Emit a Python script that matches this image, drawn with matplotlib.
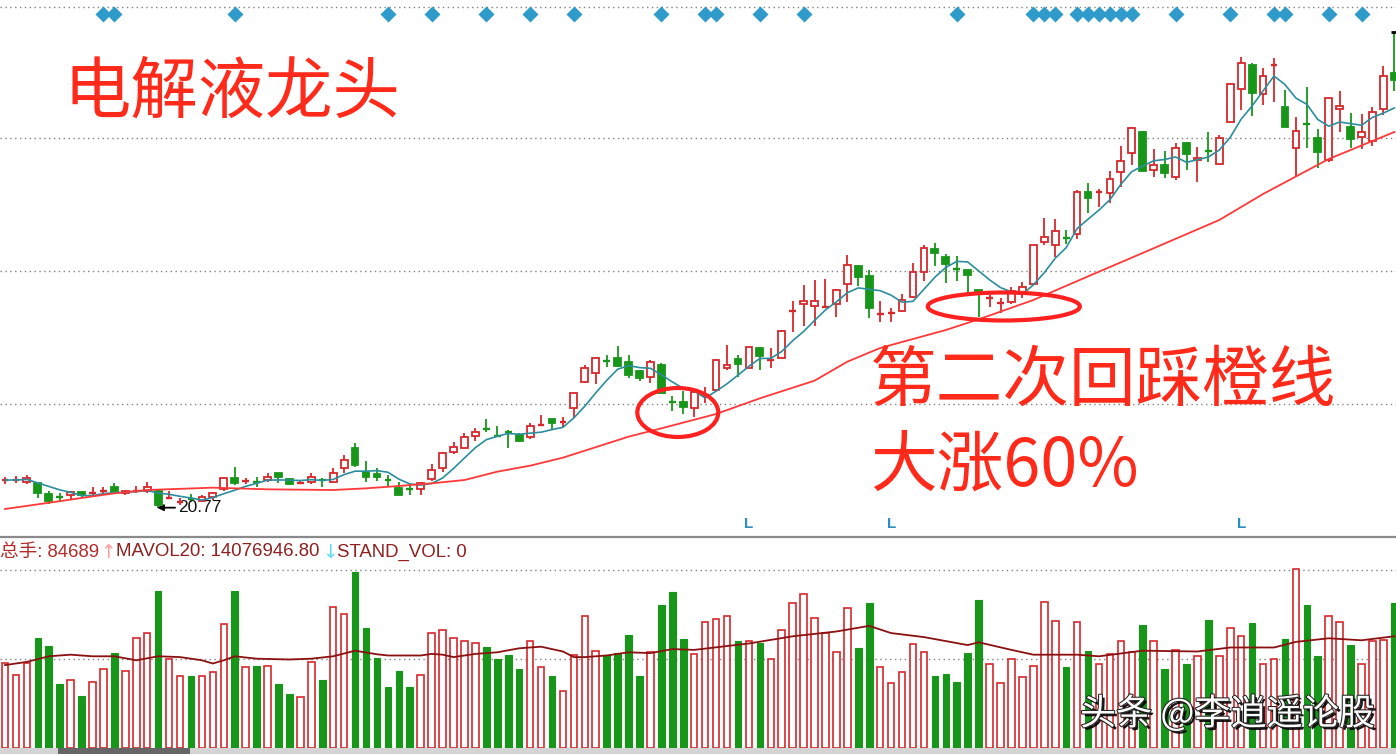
import numpy as np
import matplotlib
matplotlib.use("Agg")
import matplotlib.pyplot as plt
from matplotlib.patches import Rectangle, Ellipse
import matplotlib.patheffects as pe

# candles (price units, hidden axis)
opens = [21.57, 21.585, 21.55, 21.52, 21.18, 21.105, 21.15, 21.25, 21.20, 21.255,
         21.38, 21.20, 21.25, 21.28, 21.28, 21.06, 20.94, 21.03, 20.98, 21.08,
         21.32, 21.65, 21.57, 21.56, 21.60, 21.80, 21.63, 21.51, 21.55, 21.60,
         21.54, 21.95, 22.55, 21.85, 21.78, 21.59, 21.37, 21.33, 21.315, 21.62,
         21.95, 22.45, 22.57, 22.93, 23.13, 22.93, 23.05, 22.95, 22.90, 23.24,
         23.42, 23.33, 23.75, 24.55, 24.80, 25.19, 25.25, 25.15, 24.88, 24.68,
         25.05, 23.96, 23.93, 23.75, 24.13, 24.30, 24.95, 25.22, 24.97, 25.57,
         25.21, 25.25, 26.67, 26.88, 26.83, 26.79, 26.87, 27.48, 28.02, 27.73,
         26.59, 26.61, 26.68, 27.10, 27.85, 28.53, 28.30, 27.93, 27.90, 27.30,
         27.04, 26.91, 26.95, 27.20, 27.48, 28.73, 28.65, 28.875, 28.98, 30.25,
         30.24, 30.20, 30.85, 31.42, 32.05, 30.90, 31.05, 30.70, 31.70, 31.20,
         31.48, 31.08, 32.35, 33.33, 34.05, 33.18, 34.05, 32.80, 31.55, 32.30,
         31.85, 31.20, 32.72, 32.18, 31.88, 31.78, 32.72, 33.82]
highs = [21.69, 21.72, 21.75, 21.55, 21.27, 21.22, 21.27, 21.28, 21.38, 21.38,
         21.52, 21.30, 21.42, 21.55, 21.30, 21.27, 21.06, 21.18, 21.15, 21.25,
         21.70, 21.98, 21.65, 21.68, 21.80, 21.80, 21.65, 21.60, 21.80, 21.65,
         21.95, 22.35, 22.72, 22.17, 21.96, 21.75, 21.55, 21.48, 21.55, 22.07,
         22.44, 22.75, 23.02, 23.15, 23.42, 23.23, 23.10, 23.00, 23.32, 23.55,
         23.42, 23.48, 24.22, 25.05, 25.28, 25.35, 25.62, 25.35, 24.90, 25.20,
         25.10, 24.13, 24.28, 24.27, 24.40, 25.22, 25.65, 25.35, 25.60, 25.58,
         25.55, 26.10, 26.97, 27.45, 27.60, 27.62, 27.32, 28.35, 28.02, 27.90,
         26.98, 26.75, 27.18, 28.10, 28.65, 28.72, 28.38, 28.33, 27.90, 27.30,
         27.15, 27.05, 27.40, 27.53, 28.65, 29.47, 29.42, 29.10, 30.30, 30.50,
         30.32, 30.88, 31.62, 32.19, 32.07, 31.53, 31.47, 31.70, 31.75, 31.60,
         32.03, 31.95, 33.48, 34.28, 34.10, 33.97, 34.25, 33.30, 32.50, 33.40,
         32.13, 33.07, 33.27, 32.60, 32.57, 32.80, 34.02, 35.03]
lows = [21.48, 21.51, 21.48, 21.05, 20.88, 20.95, 21.02, 21.10, 21.15, 21.18,
        21.20, 21.15, 21.20, 21.20, 20.77, 21.045, 20.85, 20.95, 20.95, 21.00,
        21.28, 21.45, 21.48, 21.38, 21.55, 21.52, 21.45, 21.47, 21.48, 21.40,
        21.52, 21.81, 21.99, 21.54, 21.57, 21.42, 21.15, 21.15, 21.15, 21.57,
        21.85, 22.38, 22.55, 22.78, 23.05, 22.88, 22.55, 22.73, 22.82, 23.22,
        23.10, 23.20, 23.45, 24.52, 24.48, 24.98, 24.98, 24.65, 24.57, 24.52,
        24.18, 23.68, 23.58, 23.50, 23.90, 24.25, 24.90, 24.70, 24.95, 24.90,
        24.95, 25.22, 26.05, 26.22, 26.22, 26.75, 26.48, 26.95, 27.42, 26.45,
        26.35, 26.35, 26.65, 27.05, 27.58, 28.02, 27.52, 27.58, 27.20, 26.48,
        26.80, 26.62, 26.88, 27.05, 27.45, 28.65, 28.30, 28.68, 28.82, 29.62,
        29.80, 29.90, 30.40, 31.05, 30.83, 30.70, 30.65, 30.60, 30.90, 30.53,
        31.13, 31.07, 32.33, 32.70, 32.53, 32.85, 32.95, 32.20, 30.70, 31.55,
        30.95, 31.15, 32.05, 31.57, 31.53, 31.63, 32.55, 33.27]
closes = [21.60, 21.60, 21.65, 21.20, 20.98, 21.09, 21.23, 21.15, 21.21, 21.27,
          21.25, 21.27, 21.26, 21.40, 20.85, 21.075, 20.97, 21.00, 21.10, 21.22,
          21.65, 21.50, 21.58, 21.55, 21.70, 21.68, 21.47, 21.52, 21.68, 21.59,
          21.82, 22.20, 22.035, 21.675, 21.675, 21.58, 21.165, 21.32, 21.50, 21.915,
          22.40, 22.59, 22.90, 23.05, 23.11, 22.91, 23.01, 22.78, 23.22, 23.25,
          23.30, 23.35, 24.20, 24.97, 25.25, 25.17, 25.02, 24.75, 24.67, 25.15,
          24.20, 23.94, 23.78, 24.25, 24.15, 25.20, 25.05, 25.08, 25.58, 25.32,
          25.22, 26.08, 26.69, 26.97, 26.97, 26.80, 27.30, 28.05, 27.70, 26.75,
          26.60, 26.62, 27.00, 27.83, 28.57, 28.40, 28.08, 27.91, 27.75, 27.23,
          27.05, 26.92, 27.27, 27.38, 28.65, 28.88, 29.08, 28.86, 30.25, 30.05,
          30.25, 30.62, 31.18, 32.17, 30.87, 31.05, 30.80, 31.57, 31.37, 31.25,
          31.46, 31.85, 33.48, 34.10, 33.22, 33.72, 34.08, 32.20, 32.07, 32.28,
          31.45, 33.07, 32.83, 31.83, 32.03, 32.63, 33.72, 33.60]

# volume (万手)
volumes = [10.6, 9.1, 10.6, 13.8, 12.8, 8.0, 8.5, 6.5, 8.3, 9.9,
           11.9, 9.7, 13.8, 14.4, 19.7, 11.1, 9.0, 9.0, 9.0, 9.5,
           15.5, 19.7, 10.1, 10.3, 10.3, 8.0, 6.8, 6.4, 10.8, 8.5,
           17.7, 16.75, 22.0, 15.0, 11.25, 7.6, 9.7, 7.6, 9.1, 14.4,
           14.8, 13.75, 13.4, 13.2, 12.6, 11.1, 11.7, 9.9, 13.4, 10.2,
           9.0, 7.1, 11.6, 16.5, 12.2, 11.6, 11.9, 14.2, 9.0, 12.0,
           17.9, 19.5, 13.6, 11.75,
           15.75, 16.1, 16.5, 13.4, 13.4, 13.2, 11.2, 14.75, 18.1, 19.25,
           16.3, 14.4, 12.0, 17.5, 12.5, 18.1, 10.1, 8.1, 9.5, 13.0,
           12.0, 9.0, 9.3, 8.3, 11.9, 18.5, 10.5, 8.1, 11.2, 8.9,
           10.3, 18.25, 15.9, 10.1, 15.75, 12.1, 10.5, 11.8, 13.4, 12.0,
           15.4, 13.4, 9.9, 12.3, 10.5, 11.5, 16.0, 11.5, 15.0, 14.0,
           15.6, 10.5, 11.1, 13.6, 22.4, 17.9, 11.5, 16.5, 15.75, 12.9,
           10.5, 13.4, 13.5, 18.1]

# slow (orange/red) price MA, read at some candles
ma_idx = [0, 3, 7, 10, 13, 19, 24, 30, 33, 36, 39, 42, 45, 48, 51, 57, 60, 65,
          69, 74, 77, 80, 86, 89, 94, 100, 103, 111, 115, 121, 127]
ma_val = [20.73, 20.87, 21.06, 21.2, 21.3, 21.37, 21.32, 21.3, 21.35, 21.42,
          21.5, 21.6, 21.85, 22.03, 22.27, 22.9, 23.15, 23.58, 24.05, 24.58,
          25.15, 25.56, 26.1, 26.42, 27.0, 27.85, 28.27, 29.4, 30.18, 31.23, 32.04]

# MAVOL20 read at some candles
mavol_idx = [0, 2, 4, 6, 8, 10, 12, 14, 16, 18, 19, 20, 21, 23, 26, 28, 30, 32, 34,
             35, 38, 39, 40, 41, 43, 45, 47, 49, 51, 52, 53, 55, 57, 59, 61, 63,
             68, 72, 76, 79, 81, 84, 88, 89, 92, 94, 98, 100, 104, 109, 112, 116,
             118, 121, 124, 127]
mavol_val = [10.4, 10.8, 11.5, 11.7, 11.5, 11.5, 11.0, 11.5, 11.4, 11.0, 10.6, 11.0,
             11.5, 11.2, 11.1, 11.2, 11.5, 12.2, 11.75, 11.6, 11.6, 11.8, 11.7, 11.4,
             11.8, 12.0, 12.5, 12.7, 12.1, 11.4, 11.4, 11.6, 12.0, 11.9, 12.4, 12.3,
             13.1, 14.0, 14.6, 15.3, 14.4, 13.9, 12.9, 13.25, 12.3, 11.7, 11.7, 11.5,
             12.2, 12.1, 12.6, 12.6, 13.3, 13.75, 13.5, 14.0]

diamond_idx = [9, 10, 21, 35, 39, 44, 48, 52, 60, 64, 65, 69, 73, 87, 94, 95, 96,
               98, 99, 100, 101, 102, 103, 107, 112, 116, 117, 121, 124]
l_idx = [68, 81, 113]

price_grid = [23.88, 27.87, 31.86, 35.79]
vol_grid = [11.1, 22.25]

RED = '#D8282C'
GREEN = '#18961A'
TEXT_RED = '#FF2A1A'

plt.rcParams['font.family'] = ['Liberation Sans', 'Noto Sans CJK SC', 'DejaVu Sans']

W, H = 1396, 754
fig = plt.figure(figsize=(W / 100, H / 100), dpi=100)
fig.patch.set_facecolor('white')

def fy(py):
    return 1 - py / H

o = np.array(opens); h = np.array(highs); l = np.array(lows); c = np.array(closes)
v = np.array(volumes)
x = np.arange(len(o))
up = c >= o
xlim = (-0.457, 127.15)

# ---------------- price panel
ax = fig.add_axes([0, fy(537), 1, 537 / H])
ax.set_xlim(*xlim)
ax.set_ylim(19.89, 36)
ax.axis('off')

for g in price_grid:
    ax.axhline(g, color='#808080', lw=1, ls=(0, (1, 2.5)), zorder=1)

bw = 0.62
for i in x:
    col = RED if up[i] else GREEN
    ax.vlines(i, l[i], h[i], color=col, lw=1.3, zorder=3)
    lo, hi = min(o[i], c[i]), max(o[i], c[i])
    if hi - lo < 0.05:
        ax.hlines((o[i] + c[i]) / 2, i - bw / 2, i + bw / 2, color=col, lw=1.7, zorder=4)
    else:
        ax.add_patch(Rectangle((i - bw / 2, lo), bw, hi - lo,
                               facecolor='white' if up[i] else col,
                               edgecolor=col, lw=1.3, zorder=4))

ma5 = np.convolve(c, np.ones(5) / 5, mode='full')[:len(c)]
for k in range(4):
    ma5[k] = c[:k + 1].mean()
ax.plot(x, ma5, color='#2A8E9E', lw=1.2, zorder=5)
ax.plot(ma_idx, ma_val, color='#FF3838', lw=1.3, zorder=5)

ax.plot(diamond_idx, [35.58] * len(diamond_idx), 'D', color='#2E9BCB',
        ms=8.5, mec='none', clip_on=False, zorder=6)
for i in l_idx:
    ax.text(i, 20.28, 'L', color='#2C8FC2', fontsize=11, fontweight='bold',
            ha='center', va='center')
ax.hlines(35.03, 126.7, 127.3, color='k', lw=2, zorder=6)

ax.annotate('20.77', xy=(13.9, 20.77), xytext=(15.8, 20.77), fontsize=12.5,
            color='#111111', ha='left', va='center',
            arrowprops=dict(arrowstyle='-|>', color='k', lw=1.3,
                            shrinkA=0, shrinkB=0, mutation_scale=9))

ax.add_patch(Ellipse((61.5, 23.625), 7.4, 1.47, fill=False, ec='#FF2020', lw=3, zorder=7))
ax.add_patch(Ellipse((91.3, 26.805), 13.9, 0.84, fill=False, ec='#FF2020', lw=3, zorder=7))

cjk = ['Noto Sans CJK SC', 'DejaVu Sans']
fig.text(64 / W, fy(94), '电解液龙头', fontsize=48.5, color=TEXT_RED, family=cjk,
         ha='left', va='center')
fig.text(870 / W, fy(382), '第二次回踩橙线', fontsize=48, color=TEXT_RED, family=cjk,
         ha='left', va='center')
fig.text(870 / W, fy(467), '大涨60%', fontsize=48, color=TEXT_RED, family=cjk,
         ha='left', va='center')

# separator
fig.add_artist(plt.Line2D([0, 1], [fy(537), fy(537)], color='#8a8a8a', lw=1.6))

# ---------------- volume panel
vax = fig.add_axes([0, fy(748.3), 1, (748.3 - 565) / H])
vax.set_xlim(*xlim)
vax.set_ylim(0, 22.91)
vax.axis('off')
for g in vol_grid:
    vax.axhline(g, color='#808080', lw=1, ls=(0, (1, 2.5)), zorder=1)
vax.bar(x[up], v[up], width=0.6, facecolor='white', edgecolor=RED, lw=1.2, zorder=3)
vax.bar(x[~up], v[~up], width=0.6, facecolor=GREEN, edgecolor=GREEN, lw=0.8, zorder=3)
vax.plot(mavol_idx, mavol_val, color='#8B1010', lw=1.3, zorder=4)

lab_y = fy(552)
fs = 13.4
fig.text(0, lab_y, '总手: 84689', fontsize=fs, color='#B52A2A', va='center')
fig.text(100 / W, lab_y, '↑', fontsize=fs, color='#FF9A9A', va='center',
         family=['DejaVu Sans'])
fig.text(116 / W, lab_y, 'MAVOL20: 14076946.80', fontsize=fs, color='#8E2020', va='center')
fig.text(322 / W, lab_y, '↓', fontsize=fs, color='#5FDDEE', va='center',
         family=['DejaVu Sans'])
fig.text(337 / W, lab_y, 'STAND_VOL: 0', fontsize=fs, color='#8E2020', va='center')

# watermark
fig.text(1080 / W, fy(714), '头条 @李逍遥论股', fontsize=26, color='white', family=cjk,
         ha='left', va='center',
         path_effects=[pe.withSimplePatchShadow(offset=(2, -2), shadow_rgbFace='black', alpha=0.9),
                       pe.withStroke(linewidth=1.5, foreground='#222222')])

# bottom tab strip
fig.add_artist(Rectangle((0, 0), 1, 6 / H, transform=fig.transFigure,
                         facecolor='#d4d4d4', edgecolor='none'))
fig.add_artist(Rectangle((58 / W, 0), 132 / W, 6 / H, transform=fig.transFigure,
                         facecolor='#666666', edgecolor='none'))

fig.savefig('out.png', dpi=100, facecolor='white')
